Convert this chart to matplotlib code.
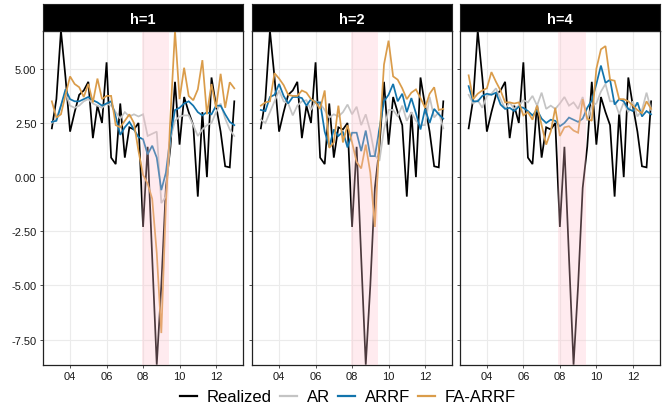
import numpy as np
import pandas as pd
import matplotlib
matplotlib.use("Agg")
import matplotlib.pyplot as plt
from matplotlib.lines import Line2D

plt.rcParams['font.family'] = ['Liberation Sans', 'DejaVu Sans']

quarters = pd.period_range('2003Q1', '2013Q1', freq='Q')
dates = np.array([p.year + (p.quarter - 1) / 4 for p in quarters])

realized = [2.25, 3.6, 6.76, 4.6, 2.1, 3.0, 3.8, 4.0, 4.4, 1.8, 3.3, 2.5, 5.3, 0.9, 0.6,
            3.4, 0.9, 2.3, 2.2, 2.5, -2.3, 1.4, -3.7, -8.66, -5.0, -0.5, 1.4, 4.4, 1.5,
            3.7, 3.0, 2.4, -0.9, 3.0, 0.0, 4.6, 3.3, 2.1, 0.5, 0.45, 3.5]

ar_h1 = [2.5, 2.7, 3.3, 3.9, 3.3, 3.2, 3.3, 3.5, 3.6, 3.4, 3.3, 3.2, 3.4, 3.3, 3.0, 2.7,
         3.0, 2.8, 2.9, 2.8, 2.9, 1.9, 2.0, 2.1, -1.2, -0.9, 1.8, 2.6, 2.8, 2.85, 2.85,
         2.4, 1.9, 2.2, 2.4, 2.5, 3.0, 3.4, 2.7, 2.2, 1.9]
arrf_h1 = [2.55, 2.6, 3.3, 4.05, 3.6, 3.5, 3.5, 3.6, 3.7, 3.55, 3.45, 3.3, 3.4, 3.5, 2.8,
           1.95, 2.3, 2.55, 2.2, 1.85, 1.75, 1.05, 1.45, 0.9, -0.6, 0.2, 1.9, 3.1, 3.2,
           3.4, 3.5, 3.3, 3.0, 2.85, 3.0, 2.9, 3.3, 3.3, 2.9, 2.55, 2.4]
faarrf_h1 = [3.5, 2.75, 2.9, 3.8, 4.65, 4.3, 4.15, 3.7, 4.3, 3.45, 4.55, 3.6, 3.75, 3.75,
             2.4, 2.3, 2.6, 2.9, 2.5, 1.2, 0.1, -0.3, -1.0, -3.5, -7.2, -1.3, 2.8, 6.76,
             3.6, 5.05, 3.75, 3.55, 4.05, 5.4, 2.9, 4.3, 3.2, 4.77, 3.2, 4.38, 4.1]

ar_h2 = [2.65, 2.5, 3.0, 3.5, 4.0, 3.5, 3.4, 2.85, 3.3, 3.5, 3.55, 3.1, 3.5, 3.4, 3.1,
         2.75, 2.9, 2.8, 3.0, 3.35, 2.9, 3.25, 2.4, 2.9, 2.1, 1.0, 0.75, 2.2, 3.1, 3.1,
         2.8, 3.3, 2.6, 3.0, 2.6, 2.4, 2.4, 3.7, 2.75, 3.0, 2.25]
arrf_h2 = [3.1, 3.05, 3.7, 3.8, 4.3, 3.75, 3.4, 3.7, 3.7, 3.65, 3.3, 3.6, 3.45, 3.45, 2.1,
           1.4, 2.2, 1.9, 2.1, 1.37, 2.05, 2.05, 1.2, 2.15, 0.97, 0.97, 2.25, 3.5, 3.8,
           4.3, 3.5, 3.85, 3.0, 3.65, 2.95, 2.2, 3.15, 2.5, 3.15, 2.9, 2.7]
faarrf_h2 = [3.3, 3.45, 3.5, 4.8, 4.55, 4.25, 3.8, 3.75, 3.75, 4.0, 3.9, 3.6, 3.45, 3.15,
             4.0, 1.35, 1.6, 3.3, 1.6, 2.4, 1.6, 0.7, 0.4, 1.5, 0.2, -2.3, 1.8, 5.2, 6.3,
             4.65, 4.5, 4.1, 3.6, 3.9, 4.05, 3.65, 3.2, 3.85, 4.15, 3.1, 3.15]

ar_h4 = [3.8, 3.4, 3.55, 3.2, 3.75, 3.85, 4.1, 3.6, 3.15, 3.45, 3.15, 3.3, 3.55, 3.45,
         3.75, 3.3, 3.9, 3.15, 3.3, 3.15, 3.4, 3.7, 3.3, 3.45, 3.15, 3.7, 2.6, 3.3, 3.4,
         3.95, 4.3, 3.5, 3.5, 2.9, 3.45, 3.0, 3.5, 2.8, 3.1, 3.9, 3.1]
arrf_h4 = [4.2, 3.5, 3.5, 3.75, 3.85, 3.8, 3.9, 3.35, 3.15, 3.2, 3.05, 3.25, 3.2, 3.05,
           2.85, 3.1, 2.7, 2.5, 2.65, 2.6, 2.35, 2.5, 2.75, 2.65, 2.55, 2.7, 3.2, 3.55,
           4.3, 5.15, 4.35, 4.5, 3.35, 3.6, 3.5, 3.15, 3.05, 3.45, 2.8, 3.05, 2.9]
faarrf_h4 = [4.7, 3.6, 3.85, 4.0, 4.1, 4.85, 4.4, 4.0, 3.45, 3.45, 3.4, 3.45, 2.85, 3.0,
             2.65, 3.3, 2.4, 1.5, 2.1, 3.2, 1.9, 2.3, 2.35, 2.15, 2.05, 3.6, 2.7, 2.6,
             5.0, 5.9, 6.05, 4.5, 4.45, 3.6, 3.6, 3.5, 3.3, 3.1, 2.95, 3.5, 3.15]

panel_titles = ['h=1', 'h=2', 'h=4']
series_names = ['Realized', 'AR', 'ARRF', 'FA-ARRF']
series_colors = ['#000000', '#C4C4C4', '#1274AC', '#DA9C4A']
panels = [
    [realized, ar_h1, arrf_h1, faarrf_h1],
    [realized, ar_h2, arrf_h2, faarrf_h2],
    [realized, ar_h4, arrf_h4, faarrf_h4],
]
recession = (2007.92, 2009.42)
xticks = [2004, 2006, 2008, 2010, 2012]
xticklabels = ['04', '06', '08', '10', '12']
yticks = [-7.5, -5.0, -2.5, 0.0, 2.5, 5.0]

W, H = 663, 410
fig = plt.figure(figsize=(W / 100, H / 100), dpi=100)

lefts = [42.7, 251.7, 459.5]
pw = 200.0
top_px, bot_px = 31.7, 365.7
strip_top = 5.0

for i, (lx, title, data) in enumerate(zip(lefts, panel_titles, panels)):
    ax = fig.add_axes([lx / W, 1 - bot_px / H, pw / W, (bot_px - top_px) / H])
    ax.set_facecolor('white')
    for vals, col in zip(data, series_colors):
        ax.plot(dates, vals, color=col, lw=1.25, zorder=3, solid_joinstyle='miter')
    ax.axvspan(*recession, color='#FFC0CB', alpha=0.3, lw=0, zorder=5)
    ax.set_xlim(2002.5, 2013.46)
    ax.set_ylim(-8.66, 6.76)
    ax.set_xticks(xticks)
    ax.set_xticklabels(xticklabels)
    ax.set_yticks(yticks)
    if i == 0:
        ax.set_yticklabels(['%.2f' % v for v in yticks])
    else:
        ax.set_yticklabels([])
        ax.tick_params(axis='y', length=0)
    ax.grid(True, color='#EBEBEB', lw=0.8, zorder=0)
    ax.set_axisbelow(True)
    for sp in ax.spines.values():
        sp.set_color('#222222')
        sp.set_linewidth(0.9)
    ax.tick_params(axis='both', labelsize=8, colors='#333333', length=2.5, width=0.6,
                   pad=2, labelcolor='#1a1a1a')

    sax = fig.add_axes([lx / W, 1 - top_px / H, pw / W, (top_px - strip_top) / H])
    sax.set_facecolor('black')
    sax.set_xticks([])
    sax.set_yticks([])
    for sp in sax.spines.values():
        sp.set_color('#222222')
    sax.text(0.5, 0.45, title, color='white', fontsize=10.5, fontweight='bold',
             ha='center', va='center', transform=sax.transAxes)

handles = [Line2D([0], [0], color=c, lw=1.6) for c in series_colors]
fig.legend(handles, series_names, loc='center', bbox_to_anchor=(348 / W, 1 - 398 / H),
           ncol=4, frameon=False, fontsize=12, handlelength=1.0, handletextpad=0.6,
           columnspacing=0.5)

fig.savefig('out.png', dpi=100)
